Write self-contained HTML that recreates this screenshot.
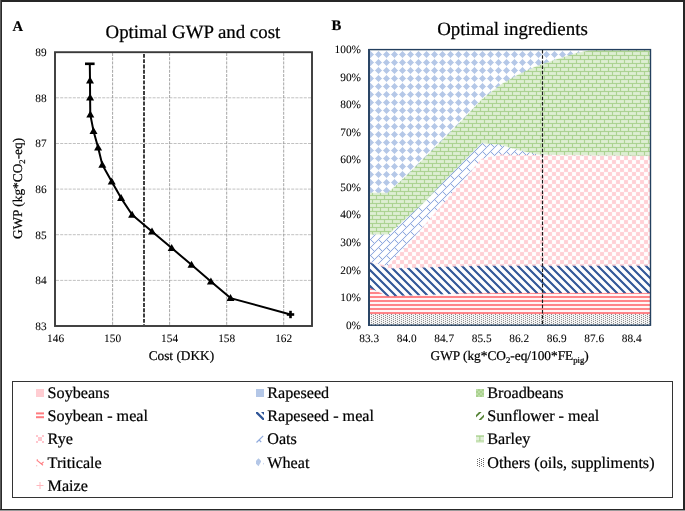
<!DOCTYPE html>
<html><head><meta charset="utf-8"><title>Optimal GWP and cost</title>
<style>html,body{margin:0;padding:0;background:#fff;width:685px;height:511px;overflow:hidden}text{fill:#000;stroke:#000;stroke-width:0.22px}text.t{stroke-width:0.06px}svg{text-rendering:geometricPrecision;-webkit-font-smoothing:antialiased;will-change:transform}</style>
</head><body><svg width="685" height="511" viewBox="0 0 685 511" style="display:block;font-family:'Liberation Serif', serif" shape-rendering="auto"><defs><pattern id="pdiam" patternUnits="userSpaceOnUse" x="0" y="0" width="8" height="8"><rect width="8" height="8" fill="#FFFFFF"/><rect x="1" y="0" width="3" height="1" fill="#B4C7E7"/><rect x="2" y="1" width="1" height="1" fill="#B4C7E7"/><rect x="2" y="3" width="1" height="1" fill="#B4C7E7"/><rect x="1" y="4" width="3" height="1" fill="#B4C7E7"/><rect x="0" y="5" width="5" height="1" fill="#B4C7E7"/><rect x="0" y="6" width="6" height="1" fill="#B4C7E7"/><rect x="7" y="6" width="1" height="1" fill="#B4C7E7"/><rect x="0" y="7" width="5" height="1" fill="#B4C7E7"/></pattern><pattern id="pgreen" patternUnits="userSpaceOnUse" x="0" y="0" width="8" height="8"><rect width="8" height="8" fill="#DEEED3"/><rect x="4" y="0" width="1" height="1" fill="#A5CF89"/><rect x="4" y="1" width="1" height="1" fill="#A5CF89"/><rect x="4" y="2" width="1" height="1" fill="#A5CF89"/><rect x="0" y="3" width="8" height="1" fill="#A5CF89"/><rect x="0" y="4" width="1" height="1" fill="#A5CF89"/><rect x="0" y="5" width="1" height="1" fill="#A5CF89"/><rect x="0" y="6" width="1" height="1" fill="#A5CF89"/><rect x="0" y="7" width="8" height="1" fill="#A5CF89"/></pattern><pattern id="pbrick" patternUnits="userSpaceOnUse" x="0" y="0" width="8" height="8"><rect width="8" height="8" fill="#FFFFFF"/><rect x="1" y="0" width="1" height="1" fill="#7393D6"/><rect x="3" y="0" width="1" height="1" fill="#7393D6"/><rect x="0" y="1" width="1" height="1" fill="#7393D6"/><rect x="4" y="1" width="1" height="1" fill="#7393D6"/><rect x="5" y="2" width="1" height="1" fill="#7393D6"/><rect x="7" y="2" width="1" height="1" fill="#7393D6"/><rect x="6" y="3" width="1" height="1" fill="#7393D6"/><rect x="5" y="4" width="1" height="1" fill="#7393D6"/><rect x="4" y="5" width="1" height="1" fill="#7393D6"/><rect x="3" y="6" width="1" height="1" fill="#7393D6"/><rect x="2" y="7" width="1" height="1" fill="#7393D6"/></pattern><pattern id="ppink" patternUnits="userSpaceOnUse" x="0" y="0" width="8" height="8"><rect width="8" height="8" fill="#FFFFFF"/><rect x="4" y="0" width="4" height="1" fill="#FFD0D5"/><rect x="4" y="1" width="4" height="1" fill="#FFD0D5"/><rect x="4" y="2" width="4" height="1" fill="#FFD0D5"/><rect x="4" y="3" width="4" height="1" fill="#FFD0D5"/><rect x="0" y="4" width="4" height="1" fill="#FFD0D5"/><rect x="0" y="5" width="4" height="1" fill="#FFD0D5"/><rect x="0" y="6" width="4" height="1" fill="#FFD0D5"/><rect x="0" y="7" width="4" height="1" fill="#FFD0D5"/></pattern><pattern id="prapm" patternUnits="userSpaceOnUse" x="0" y="0" width="8" height="8"><rect width="8" height="8" fill="#FFFFFF"/><rect x="3" y="0" width="3" height="1" fill="#2F5597"/><rect x="4" y="1" width="3" height="1" fill="#2F5597"/><rect x="5" y="2" width="3" height="1" fill="#2F5597"/><rect x="0" y="3" width="1" height="1" fill="#2F5597"/><rect x="6" y="3" width="2" height="1" fill="#2F5597"/><rect x="0" y="4" width="2" height="1" fill="#2F5597"/><rect x="7" y="4" width="1" height="1" fill="#2F5597"/><rect x="0" y="5" width="3" height="1" fill="#2F5597"/><rect x="1" y="6" width="3" height="1" fill="#2F5597"/><rect x="2" y="7" width="3" height="1" fill="#2F5597"/></pattern><pattern id="pred" patternUnits="userSpaceOnUse" x="0" y="0" width="4" height="4"><rect width="4" height="4" fill="#FFFFFF"/><rect x="0" y="0" width="4" height="1" fill="#FF7C80"/><rect x="0" y="1" width="4" height="1" fill="#FF7C80"/></pattern><pattern id="pdot" patternUnits="userSpaceOnUse" x="0" y="0" width="4" height="2"><rect width="4" height="4" fill="#FFFFFF"/><rect x="3" y="0" width="1" height="1" fill="#6A6A6A"/><rect x="1" y="1" width="1" height="1" fill="#6A6A6A"/></pattern><filter id="soft" x="0" y="0" width="1" height="1" color-interpolation-filters="sRGB"><feConvolveMatrix order="3" kernelMatrix="0.01 0.05 0.01 0.05 0.76 0.05 0.01 0.05 0.01" divisor="1" edgeMode="duplicate"/></filter></defs><rect width="685" height="511" fill="#fff"/><line x1="56" y1="97.8" x2="311" y2="97.8" stroke="#BEBEBE" stroke-width="0.95" stroke-dasharray="3,1.2"/><line x1="56" y1="143.5" x2="311" y2="143.5" stroke="#BEBEBE" stroke-width="0.95" stroke-dasharray="3,1.2"/><line x1="56" y1="189.1" x2="311" y2="189.1" stroke="#BEBEBE" stroke-width="0.95" stroke-dasharray="3,1.2"/><line x1="56" y1="234.7" x2="311" y2="234.7" stroke="#BEBEBE" stroke-width="0.95" stroke-dasharray="3,1.2"/><line x1="56" y1="280.4" x2="311" y2="280.4" stroke="#BEBEBE" stroke-width="0.95" stroke-dasharray="3,1.2"/><line x1="112.6" y1="53" x2="112.6" y2="325" stroke="#9C9C9C" stroke-width="0.9" stroke-dasharray="3,1.2"/><line x1="169.6" y1="53" x2="169.6" y2="325" stroke="#9C9C9C" stroke-width="0.9" stroke-dasharray="3,1.2"/><line x1="226.7" y1="53" x2="226.7" y2="325" stroke="#9C9C9C" stroke-width="0.9" stroke-dasharray="3,1.2"/><line x1="283.7" y1="53" x2="283.7" y2="325" stroke="#9C9C9C" stroke-width="0.9" stroke-dasharray="3,1.2"/><line x1="144" y1="53.9" x2="144" y2="325" stroke="#2B2B2B" stroke-width="1.8" stroke-dasharray="3.9,1.4"/><rect x="55" y="52.2" width="257" height="273.8" fill="none" stroke="#3A3A3A" stroke-width="1.9"/><polyline points="89.8,63.8 90,80.6 90.1,97.6 90.3,114.6 93.5,130.9 98.1,147.6 102.3,164.8 111.7,181.4 121.1,198.1 132.1,214.8 152,231.4 171.7,248.1 191.5,264.8 210.9,281.4 230.5,298.1 290.5,314.5" fill="none" stroke="#000" stroke-width="2" stroke-linejoin="round"/><rect x="85.0" y="62.5" width="9.6" height="2.6" fill="#000"/><polygon points="90.00,76.60 94.00,83.60 86.00,83.60" fill="#000"/><polygon points="90.10,93.60 94.10,100.60 86.10,100.60" fill="#000"/><polygon points="90.30,110.60 94.30,117.60 86.30,117.60" fill="#000"/><polygon points="93.50,126.90 97.50,133.90 89.50,133.90" fill="#000"/><polygon points="98.10,143.60 102.10,150.60 94.10,150.60" fill="#000"/><polygon points="102.30,160.80 106.30,167.80 98.30,167.80" fill="#000"/><polygon points="111.70,177.40 115.70,184.40 107.70,184.40" fill="#000"/><polygon points="121.10,194.10 125.10,201.10 117.10,201.10" fill="#000"/><polygon points="132.10,210.80 136.10,217.80 128.10,217.80" fill="#000"/><polygon points="152.00,227.40 156.00,234.40 148.00,234.40" fill="#000"/><polygon points="171.70,244.10 175.70,251.10 167.70,251.10" fill="#000"/><polygon points="191.50,260.80 195.50,267.80 187.50,267.80" fill="#000"/><polygon points="210.90,277.40 214.90,284.40 206.90,284.40" fill="#000"/><polygon points="230.50,294.10 234.50,301.10 226.50,301.10" fill="#000"/><rect x="286.8" y="313.2" width="7.4" height="2.6" fill="#000"/><rect x="289.2" y="310.8" width="2.6" height="7.4" fill="#000"/><text x="46.6" y="329.8" text-anchor="end" font-size="11.33" class="t">83</text><text x="46.6" y="284.2" text-anchor="end" font-size="11.33" class="t">84</text><text x="46.6" y="238.5" text-anchor="end" font-size="11.33" class="t">85</text><text x="46.6" y="192.9" text-anchor="end" font-size="11.33" class="t">86</text><text x="46.6" y="147.3" text-anchor="end" font-size="11.33" class="t">87</text><text x="46.6" y="101.6" text-anchor="end" font-size="11.33" class="t">88</text><text x="46.6" y="56.0" text-anchor="end" font-size="11.33" class="t">89</text><text x="55.6" y="341.8" text-anchor="middle" font-size="11.33" class="t">146</text><text x="112.6" y="341.8" text-anchor="middle" font-size="11.33" class="t">150</text><text x="169.6" y="341.8" text-anchor="middle" font-size="11.33" class="t">154</text><text x="226.7" y="341.8" text-anchor="middle" font-size="11.33" class="t">158</text><text x="283.7" y="341.8" text-anchor="middle" font-size="11.33" class="t">162</text><text x="181.4" y="359.7" text-anchor="middle" font-size="13.33">Cost (DKK)</text><text transform="translate(21.7,188.5) rotate(-90)" x="0" y="0" text-anchor="middle" font-size="13.33">GWP (kg*CO<tspan font-size="8.7" dy="3">2</tspan><tspan dy="-3">-eq)</tspan></text><text x="105.6" y="38.1" font-size="18.85">Optimal GWP and cost</text><text x="12.4" y="30.7" font-size="14.67" font-weight="bold">A</text><g filter="url(#soft)"><rect x="369.2" y="49.5" width="281.25" height="275.70" fill="url(#pdiam)"/><polygon points="369.20,325.2 369.20,192.80 387.95,192.80 406.70,175.60 425.45,156.90 444.20,138.20 462.95,119.40 481.70,99.50 500.45,84.80 519.20,74.00 537.95,65.50 556.70,59.20 575.45,53.20 594.20,49.50 612.95,49.50 631.70,49.50 650.45,49.50 650.45,325.2" fill="url(#pgreen)"/><polygon points="369.20,325.2 369.20,234.40 387.95,234.40 406.70,218.00 425.45,201.20 444.20,181.00 462.95,162.00 481.70,143.00 500.45,144.80 519.20,150.30 537.95,154.60 556.70,155.00 575.45,155.30 594.20,155.50 612.95,155.60 631.70,155.80 650.45,155.80 650.45,325.2" fill="url(#pbrick)"/><polygon points="369.20,325.2 369.20,261.90 387.95,266.00 406.70,244.80 425.45,224.10 444.20,202.40 462.95,180.10 481.70,158.80 500.45,154.60 519.20,155.00 537.95,155.00 556.70,155.00 575.45,155.30 594.20,155.50 612.95,155.60 631.70,155.80 650.45,155.80 650.45,325.2" fill="url(#ppink)"/><polygon points="369.20,325.2 369.20,262.20 387.95,268.60 406.70,268.00 425.45,267.40 444.20,266.80 462.95,266.20 481.70,265.80 500.45,265.80 519.20,265.80 537.95,265.80 556.70,265.80 575.45,265.80 594.20,265.80 612.95,265.80 631.70,265.80 650.45,265.80 650.45,325.2" fill="url(#prapm)"/><polygon points="369.20,325.2 369.20,287.50 387.95,296.30 406.70,295.60 425.45,294.90 444.20,294.20 462.95,293.50 481.70,293.20 500.45,293.00 519.20,293.00 537.95,293.00 556.70,293.00 575.45,293.00 594.20,293.00 612.95,293.00 631.70,293.00 650.45,293.00 650.45,325.2" fill="url(#pred)"/><polygon points="369.20,325.2 369.20,314.00 387.95,314.00 406.70,314.00 425.45,314.00 444.20,314.00 462.95,314.00 481.70,314.00 500.45,314.00 519.20,314.00 537.95,314.00 556.70,314.00 575.45,314.00 594.20,314.00 612.95,314.00 631.70,314.00 650.45,314.00 650.45,325.2" fill="url(#pdot)"/></g><line x1="542.5" y1="50" x2="542.5" y2="325" stroke="#1A1A1A" stroke-width="1.15" stroke-dasharray="3.5,1.7"/><rect x="369" y="49.6" width="281.5" height="275.6" fill="none" stroke="#24405F" stroke-width="1.4"/><line x1="369" y1="49" x2="369" y2="326" stroke="#2A4565" stroke-width="2"/><text x="361" y="52.9" text-anchor="end" font-size="11.33" class="t">100%</text><text x="361" y="80.5" text-anchor="end" font-size="11.33" class="t">90%</text><text x="361" y="108.0" text-anchor="end" font-size="11.33" class="t">80%</text><text x="361" y="135.6" text-anchor="end" font-size="11.33" class="t">70%</text><text x="361" y="163.2" text-anchor="end" font-size="11.33" class="t">60%</text><text x="361" y="190.8" text-anchor="end" font-size="11.33" class="t">50%</text><text x="361" y="218.3" text-anchor="end" font-size="11.33" class="t">40%</text><text x="361" y="245.9" text-anchor="end" font-size="11.33" class="t">30%</text><text x="361" y="273.5" text-anchor="end" font-size="11.33" class="t">20%</text><text x="361" y="301.0" text-anchor="end" font-size="11.33" class="t">10%</text><text x="361" y="328.6" text-anchor="end" font-size="11.33" class="t">0%</text><text x="369.2" y="341.6" text-anchor="middle" font-size="11.33" class="t">83.3</text><text x="406.7" y="341.6" text-anchor="middle" font-size="11.33" class="t">84.0</text><text x="444.2" y="341.6" text-anchor="middle" font-size="11.33" class="t">84.7</text><text x="481.7" y="341.6" text-anchor="middle" font-size="11.33" class="t">85.5</text><text x="519.2" y="341.6" text-anchor="middle" font-size="11.33" class="t">86.2</text><text x="556.7" y="341.6" text-anchor="middle" font-size="11.33" class="t">86.9</text><text x="594.2" y="341.6" text-anchor="middle" font-size="11.33" class="t">87.6</text><text x="631.7" y="341.6" text-anchor="middle" font-size="11.33" class="t">88.4</text><text x="509.7" y="360.2" text-anchor="middle" font-size="13.33">GWP (kg*CO<tspan font-size="8.7" dy="3">2</tspan><tspan dy="-3">-eq/100*FE</tspan><tspan font-size="8.7" dy="3">pig</tspan><tspan dy="-3">)</tspan></text><text x="437.2" y="35.0" font-size="18.9">Optimal ingredients</text><text x="331.4" y="29.8" font-size="14.67" font-weight="bold">B</text><rect x="12.5" y="381.5" width="660" height="116" fill="none" stroke="#333" stroke-width="1"/><text x="47.6" y="397.9" font-size="16.15">Soybeans</text><text x="267.3" y="397.9" font-size="16.15">Rapeseed</text><text x="487.3" y="397.9" font-size="16.15">Broadbeans</text><text x="47.6" y="421.15" font-size="16.15">Soybean - meal</text><text x="267.3" y="421.15" font-size="16.15">Rapeseed - meal</text><text x="487.3" y="421.15" font-size="16.15">Sunflower - meal</text><text x="47.6" y="444.4" font-size="16.15">Rye</text><text x="267.3" y="444.4" font-size="16.15">Oats</text><text x="487.3" y="444.4" font-size="16.15">Barley</text><text x="47.6" y="467.65" font-size="16.15">Triticale</text><text x="267.3" y="467.65" font-size="16.15">Wheat</text><text x="487.3" y="467.65" font-size="16.15">Others (oils, suppliments)</text><text x="47.6" y="490.9" font-size="16.15">Maize</text><g transform="translate(36,389.0)"><rect width="8" height="8" fill="#FFCDD2"/></g><g transform="translate(256,389.0)"><rect width="8" height="8" fill="#B4C7E7"/></g><g transform="translate(476,389.0)"><rect width="8" height="8" fill="#A9D18E"/><path d="M0,0h2v2h-2z M4,0h2v2h-2z M2,2h2v2h-2z M6,2h2v2h-2z M0,4h2v2h-2z M4,4h2v2h-2z M2,6h2v2h-2z M6,6h2v2h-2z" fill="#BCDCA6"/></g><g transform="translate(36,412.0)"><rect y="0.4" width="8" height="2" fill="#FF7C80"/><rect y="4.2" width="8" height="2" fill="#FF7C80"/></g><g transform="translate(256,412.0)"><path d="M0,0 L1.8,0 L8,6.2 L8,8 L6.6,8 L0,1.4 Z M5,0 L8,0 L8,3 Z" fill="#2F5597"/></g><g transform="translate(476,412.0)"><path d="M0,3 L3,0 L5.6,0 L0,5.6 Z M2.6,8 L8,2.6 L8,5 L5,8 Z" fill="#548235"/></g><g transform="translate(36,435.0)"><path d="M2,2h4v4h-4z M0,0h2v2h-2z M6,0h2v2h-2z M0,6h2v2h-2z M6,6h2v2h-2z" fill="#FFC7CE"/></g><g transform="translate(256,435.0)"><path d="M0.5,7.5 L7.2,0.8 M3.2,5 L5.2,7.2" stroke="#8FAADC" stroke-width="1.2" fill="none"/></g><g transform="translate(476,435.0)"><rect width="8" height="8" fill="#E2F0D9"/><path d="M0,0.6h8v1.2h-8z M0,5.4h8v1.2h-8z M3.3,1.8h1.1v3.6h-1.1z" fill="#A9D18E"/></g><g transform="translate(36,458.0)"><path d="M1.3,1.2 L1.2,3.2 M1.4,2.6 L7,7.2 M5.2,6 L7.6,3.8" stroke="#FF7C80" stroke-width="1.1" fill="none"/><rect x="0.2" y="7.3" width="1" height="1" fill="#FF9EA2"/></g><g transform="translate(256,458.0)"><path d="M0,2.8 L2.5,0.3 L5,2.8 L5,3.8 L2.5,8.3 L0,5.8 Z" fill="#B4C7E7"/><path d="M7,5.8 L8,4.8 L8,6.8 Z" fill="#B4C7E7"/></g><g transform="translate(476,458.0)"><rect width="8" height="9" fill="url(#pdot)"/></g><g transform="translate(36,481.5)"><path d="M4,0.5 V7.5 M0.5,4 H7.5" stroke="#FFB8BE" stroke-width="1"/></g><rect x="0" y="0" width="685" height="2" fill="#262626"/><rect x="0" y="0" width="1" height="511" fill="#5A5A5A"/><rect x="1" y="0" width="1" height="511" fill="#2A2A2A"/><rect x="683" y="0" width="2" height="511" fill="#262626"/><rect x="0" y="509" width="685" height="1" fill="#262626"/><rect x="0" y="510" width="685" height="1" fill="#999999"/></svg></body></html>
